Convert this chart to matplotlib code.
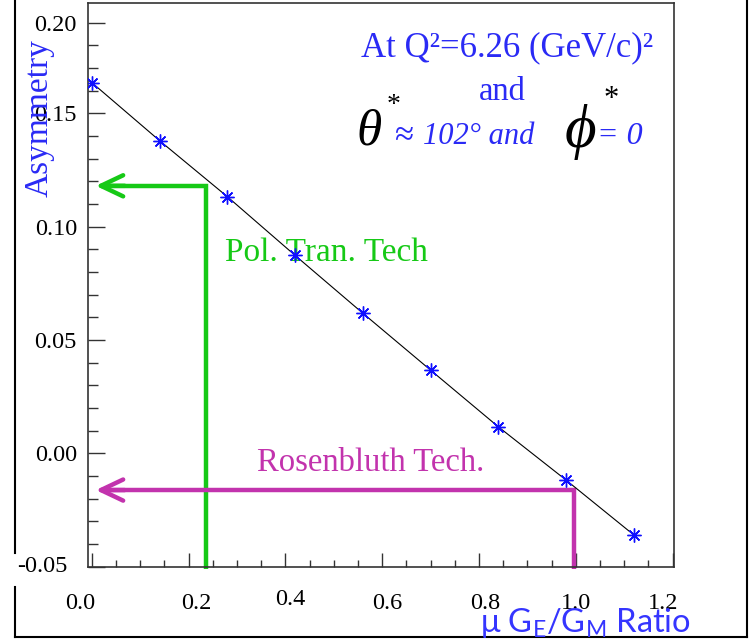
import matplotlib
matplotlib.use("Agg")
import matplotlib.pyplot as plt
from matplotlib.lines import Line2D
from matplotlib.ticker import FixedLocator, FixedFormatter, MultipleLocator
from matplotlib.transforms import ScaledTranslation

plt.rcParams.update({
    "font.family": ["Liberation Serif", "DejaVu Serif"],
    "axes.linewidth": 1.2,
})

# asymmetry vs mu*G_E/G_M at Q^2 = 6.26 (GeV/c)^2
ratio = [0.00, 0.14, 0.28, 0.42, 0.56, 0.70, 0.84, 0.98, 1.12]
asym = [0.1635, 0.1379, 0.1132, 0.0873, 0.0618, 0.0367, 0.0117, -0.0118, -0.0360]

# the two form-factor ratio measurements read onto the asymmetry axis
pol_ratio, pol_asym = 0.235, 0.118
ros_ratio, ros_asym = 0.997, -0.0162

xtick_pos = [0.0, 0.2, 0.4, 0.6, 0.8, 1.0, 1.2]
xtick_lab = ["0.0", "0.2", "0.4", "0.6", "0.8", "1.0", "1.2"]
ytick_pos = [0.00, 0.05, 0.10, 0.15, 0.19]
ytick_lab = ["0.00", "0.05", "0.10", "0.15", "0.20"]

BLUE = "#2a2af5"
GREEN = "#16c916"
MAGENTA = "#c233ad"

W, H = 750, 639
fig = plt.figure(figsize=(W / 100, H / 100), dpi=100)


def fx(px):
    return px / W


def fy(py):
    return 1 - py / H


ax = fig.add_axes([fx(88), fy(566.7), fx(674) - fx(88), fy(3.3) - fy(566.7)])
ax.set_xlim(-0.008, 1.203)
ax.set_ylim(-0.05, 0.1985)
for s in ax.spines.values():
    s.set_color("#333333")

ax.xaxis.set_major_locator(FixedLocator(xtick_pos))
ax.xaxis.set_major_formatter(FixedFormatter(xtick_lab))
ax.xaxis.set_minor_locator(MultipleLocator(0.05))
ax.yaxis.set_major_locator(FixedLocator([-0.05] + ytick_pos))
ax.yaxis.set_major_formatter(FixedFormatter([""] + ytick_lab))
ax.yaxis.set_minor_locator(FixedLocator([i / 100 for i in range(-5, 20)]))
ax.tick_params(which="both", direction="in", color="#333333", width=1.0,
               labelsize=17.5)
ax.tick_params(axis="x", which="major", length=10, pad=19)
ax.tick_params(axis="x", which="minor", length=5)
ax.tick_params(axis="y", which="major", length=12, pad=8)
ax.tick_params(axis="y", which="minor", length=7)
ax.tick_params(top=False, right=False, which="both")

# the hand-set x labels do not sit exactly under their ticks
label_shift = [(-12, 0), (8, 0), (5, 4), (5, 0), (6, 0), (0, 0), (-9, 0)]
for lab, (dx, dy) in zip(ax.get_xticklabels(), label_shift):
    lab.set_transform(lab.get_transform()
                      + ScaledTranslation(dx / 100, dy / 100, fig.dpi_scale_trans))

# -0.05 sits a bit further out, on a white patch over the border
ax.text(-0.035, -0.05, "-0.05", transform=ax.get_yaxis_transform(),
        ha="right", va="center", fontsize=17.5, clip_on=False, zorder=5,
        bbox=dict(boxstyle="square,pad=0.12", fc="white", ec="none"))

# straight-line dependence plus the calculated points
ax.plot(ratio, asym, color="black", lw=0.8, zorder=3)
ax.plot(ratio, asym, ls="none", marker=(8, 2, 0), ms=10, mew=1.0,
        color="#1010ff", zorder=4)
ax.plot(ratio, asym, ls="none", marker="o", ms=2.5, color="#1010ff", zorder=4)

# arrows: measured ratio -> asymmetry
tip_x = 0.008
y_bot = -0.0512
for rx, ay, col in [(pol_ratio, pol_asym, GREEN), (ros_ratio, ros_asym, MAGENTA)]:
    ax.plot([tip_x + 0.01, rx, rx], [ay, ay, y_bot], color=col, lw=3.2,
            solid_joinstyle="miter", solid_capstyle="butt", clip_on=False,
            zorder=2)
    ax.annotate("", xy=(tip_x, ay), xytext=(tip_x + 0.06, ay),
                arrowprops=dict(arrowstyle="->,head_length=0.8,head_width=0.38",
                                color=col, lw=3.2, mutation_scale=20,
                                shrinkA=0, shrinkB=0),
                zorder=2)

ax.text(0.484, 0.0884, "Pol. Tran. Tech", color=GREEN, fontsize=24,
        ha="center", va="center", zorder=3)
ax.text(0.577, -0.0043, "Rosenbluth Tech.", color=MAGENTA, fontsize=23.5,
        ha="center", va="center", zorder=3)

# axis titles
fig.text(fx(39), fy(118.5), "Asymmetry", rotation=90, color=BLUE, fontsize=24,
         ha="center", va="center")
fig.text(fx(585), fy(632), r"μ G$_\mathregular{E}$/G$_\mathregular{M}$ Ratio",
         color="#3535ff", fontsize=23.5, family="Lato", ha="center",
         va="baseline", zorder=6)

# kinematics block
fig.text(fx(507), fy(56.7), "At Q²=6.26 (GeV/c)²", color=BLUE, fontsize=25,
         ha="center", va="baseline")
fig.text(fx(502), fy(100), "and", color=BLUE, fontsize=23.5, ha="center",
         va="baseline")
fig.text(fx(356), fy(145), "θ", color="black", fontsize=37, style="italic",
         ha="left", va="baseline")
fig.text(fx(394), fy(106), "*", color="black", fontsize=20, ha="center",
         va="center")
fig.text(fx(394), fy(144), "≈", color=BLUE, fontsize=25, ha="left",
         va="baseline")
fig.text(fx(423), fy(144), "102° and", color=BLUE, fontsize=22,
         style="italic", ha="left", va="baseline")
fig.text(fx(565), fy(147), "ϕ", color="black", fontsize=44, style="italic",
         ha="left", va="baseline")
fig.text(fx(611), fy(100), "*", color="black", fontsize=22, ha="center",
         va="center")
fig.text(fx(597), fy(144), "= 0", color=BLUE, fontsize=23, style="italic",
         ha="left", va="baseline")

# outer page border
border = dict(color="black", lw=1.5, transform=fig.transFigure)
fig.add_artist(Line2D([fx(15), fx(15)], [fy(0), fy(553)], **border))
fig.add_artist(Line2D([fx(15), fx(15)], [fy(587), fy(636.7)], **border))
fig.add_artist(Line2D([fx(15), fx(747)], [fy(636.7), fy(636.7)], **border))
fig.add_artist(Line2D([fx(747), fx(747)], [fy(0), fy(636.7)], **border))

fig.savefig("out.png", dpi=100)
